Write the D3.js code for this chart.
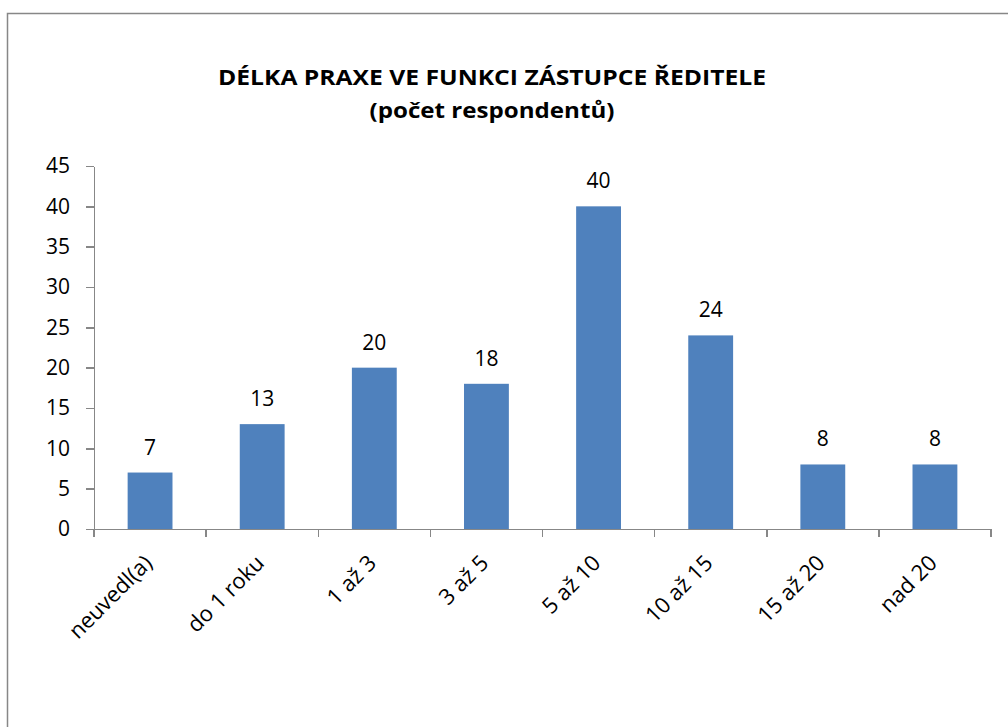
<!DOCTYPE html>
<html>
<head>
<meta charset="utf-8">
<script src="https://cdn.jsdelivr.net/npm/d3@7"></script>
<style>
  body { margin: 0; background: #fff; }
  text { font-family: "Open Sans", sans-serif; fill: #000; }
</style>
</head>
<body>
<div id="chart"></div>
<script>
// data
const categories = ["neuvedl(a)", "do 1 roku", "1 až 3", "3 až 5", "5 až 10", "10 až 15", "15 až 20", "nad 20"];
const values = [7, 13, 20, 18, 40, 24, 8, 8];
const yTicks = [0, 5, 10, 15, 20, 25, 30, 35, 40, 45];
const titleLines = ["DÉLKA PRAXE VE FUNKCI ZÁSTUPCE ŘEDITELE", "(počet respondentů)"];

const W = 1008, H = 727;
const plot = {left: 94, right: 991, top: 166, bottom: 529};
const axisColor = "#878787";

let svg = d3.select("#chart").append("svg")
    .attr("width", W)
    .attr("height", H);

// outer chart border (cut off on the right and bottom)
svg.append("rect")
    .attr("x", 7.5)
    .attr("y", 13.5)
    .attr("width", W + 20)
    .attr("height", H + 20)
    .attr("fill", "none")
    .attr("stroke", axisColor)
    .attr("stroke-width", 1.5);

let x = d3.scaleBand()
    .domain(categories)
    .range([plot.left, plot.right])
    .paddingInner(0.6)
    .paddingOuter(0.3);

let y = d3.scaleLinear()
    .domain([0, 45])
    .range([plot.bottom, plot.top]);

// title (the original is slightly stretched sideways, so fit the widths)
const titleWidths = [548, 245];
svg.selectAll(".title")
    .data(titleLines)
    .enter().append("text")
    .attr("class", "title")
    .attr("x", 492)
    .attr("y", (d, i) => 85 + i * 33)
    .attr("text-anchor", "middle")
    .attr("textLength", (d, i) => titleWidths[i])
    .attr("lengthAdjust", "spacingAndGlyphs")
    .style("font-size", "22px")
    .style("font-weight", "bold")
    .text(d => d);

// bars
svg.selectAll(".bar")
    .data(values)
    .enter().append("rect")
    .attr("class", "bar")
    .attr("x", (d, i) => x(categories[i]))
    .attr("y", d => y(d))
    .attr("width", x.bandwidth())
    .attr("height", d => y(0) - y(d))
    .attr("fill", "#4F81BD");

// value labels
svg.selectAll(".val")
    .data(values)
    .enter().append("text")
    .attr("class", "val")
    .attr("x", (d, i) => x(categories[i]) + x.bandwidth() / 2)
    .attr("y", d => y(d) - 18)
    .attr("text-anchor", "middle")
    .style("font-size", "21px")
    .text(d => d);

// y axis
let yAxis = svg.append("g")
    .attr("transform", "translate(" + plot.left + ",0)")
    .call(d3.axisLeft(y).tickValues(yTicks).tickSize(8).tickPadding(16).tickSizeOuter(0));
yAxis.selectAll("text").style("font-size", "21px").attr("fill", "#000");

// x axis: baseline, category boundary ticks, rotated labels
let xAxis = svg.append("g")
    .attr("transform", "translate(0," + plot.bottom + ")")
    .call(d3.axisBottom(x).tickSize(0).tickSizeOuter(0).tickFormat(""));
xAxis.select(".domain").attr("d", "M" + (plot.left - 8) + ",0.5H" + plot.right);

let bounds = categories.map(c => x(c) + x.bandwidth() / 2 - x.step() / 2);
bounds.push(plot.right);
xAxis.selectAll(".bound")
    .data(bounds)
    .enter().append("line")
    .attr("class", "bound")
    .attr("x1", d => d)
    .attr("x2", d => d)
    .attr("y1", 0)
    .attr("y2", 8);

svg.selectAll(".xlab")
    .data(categories)
    .enter().append("text")
    .attr("class", "xlab")
    .attr("transform", d => "translate(" + (x(d) + x.bandwidth() / 2 - 2) + "," + (plot.bottom + 30) + ") rotate(-45)")
    .attr("text-anchor", "end")
    .attr("dy", "0.35em")
    .style("font-size", "22px")
    .text(d => d);

svg.selectAll(".domain, .tick line, .bound")
    .attr("stroke", axisColor)
    .attr("stroke-width", 1.5)
    .style("shape-rendering", "crispEdges");
</script>
</body>
</html>
